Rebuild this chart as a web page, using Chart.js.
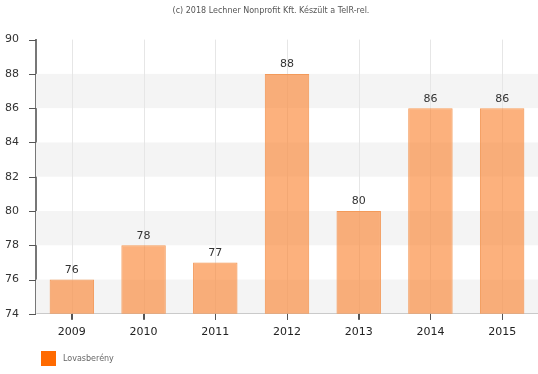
<!DOCTYPE html>
<html><head><meta charset="utf-8">
<script src="https://cdn.jsdelivr.net/npm/chart.js@4"></script>
<style>html,body{margin:0;padding:0;background:#fff}#wrap{width:538px;height:374px}</style>
</head><body><div id="wrap"><canvas id="c" width="538" height="374"></canvas></div>
<script>
const categories = ['2009','2010','2011','2012','2013','2014','2015'];
const values = [76, 78, 77, 88, 80, 86, 86];
const seriesName = 'Lovasberény';
const titleText = '(c) 2018 Lechner Nonprofit Kft. Készült a TeIR-rel.';
const yMin = 74, yMax = 90, yStep = 2;
const FONT = '"DejaVu Sans", Verdana, sans-serif';

const bands = {
  id: 'bands',
  beforeDatasetsDraw(chart) {
    const {ctx, chartArea, scales: {y}} = chart;
    ctx.save();
    ctx.fillStyle = '#f4f4f4';
    for (let v = yMin; v < yMax; v += yStep * 2) {
      const top = y.getPixelForValue(v + yStep), bot = y.getPixelForValue(v);
      ctx.fillRect(chartArea.left, top, chartArea.right - chartArea.left, bot - top);
    }
    const x = chart.scales.x;
    ctx.strokeStyle = '#e6e6e6'; ctx.lineWidth = 1;
    categories.forEach((c, i) => {
      const px = Math.round(x.getPixelForValue(i)) + 0.5;
      ctx.beginPath(); ctx.moveTo(px, chartArea.top); ctx.lineTo(px, chartArea.bottom); ctx.stroke();
    });
    ctx.restore();
  }
};
const labels = {
  id: 'vlabels',
  afterDraw(chart) {
    const {ctx, chartArea, scales: {x, y}} = chart;
    const meta = chart.getDatasetMeta(0);
    ctx.save();
    ctx.font = '11px ' + FONT;
    ctx.fillStyle = '#333';
    ctx.textAlign = 'center'; ctx.textBaseline = 'bottom';
    meta.data.forEach((bar, i) => {
      ctx.fillText(String(values[i]), bar.x, bar.y - 4);
    });
    // y tick marks
    ctx.strokeStyle = '#555'; ctx.lineWidth = 1;
    for (let v = yMin; v <= yMax; v += yStep) {
      const py = Math.round(y.getPixelForValue(v)) + 0.5;
      ctx.beginPath(); ctx.moveTo(chartArea.left - 7, py); ctx.lineTo(chartArea.left, py); ctx.stroke();
    }
    // x tick marks
    categories.forEach((c, i) => {
      const px = Math.round(x.getPixelForValue(i)) + 0.5;
      ctx.beginPath(); ctx.moveTo(px, chartArea.bottom); ctx.lineTo(px, chartArea.bottom + 6); ctx.stroke();
    });
    // custom legend
    ctx.fillStyle = '#ff6a00';
    ctx.fillRect(41, 351, 15, 15);
    ctx.font = '8px ' + FONT;
    ctx.fillStyle = '#666';
    ctx.textAlign = 'left'; ctx.textBaseline = 'middle';
    ctx.fillText(seriesName, 63, 359);
    ctx.restore();
  }
};

new Chart(document.getElementById('c'), {
  type: 'bar',
  data: {
    labels: categories,
    datasets: [{
      label: seriesName,
      data: values,
      backgroundColor: 'rgba(250,135,55,0.65)',
      borderColor: '#f39a5a',
      borderWidth: 1,
      categoryPercentage: 1,
      barPercentage: 0.62
    }]
  },
  options: {
    responsive: false,
    animation: false,
    layout: {padding: {left: 4, right: 0, top: 0, bottom: 29}},
    plugins: {
      title: {display: true, text: titleText, color: '#555',
        font: {family: FONT, size: 8, weight: 'normal'},
        padding: {top: 6, bottom: 24}},
      legend: {display: false},
      tooltip: {enabled: false}
    },
    scales: {
      x: {
        grid: {display: true, drawOnChartArea: false, drawTicks: true, tickLength: 6, offset: false, color: '#555'},
        border: {color: '#222', width: 1},
        ticks: {color: '#222', font: {family: FONT, size: 11}, padding: 6}
      },
      y: {
        min: yMin, max: yMax,
        afterFit(s) { s.width = 32; },
        ticks: {stepSize: yStep, color: '#333', font: {family: FONT, size: 11}, padding: 9},
        grid: {display: false},
        border: {color: '#777', width: 2}
      }
    }
  },
  plugins: [bands, labels]
});
</script></body></html>
